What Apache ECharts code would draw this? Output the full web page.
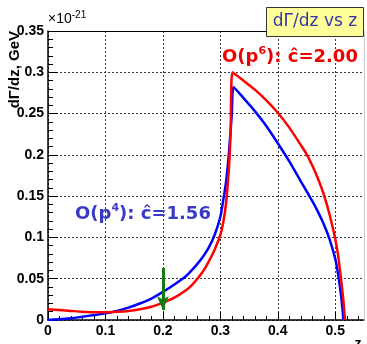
<!doctype html>
<html>
<head>
<meta charset="utf-8">
<title></title>
<script src="https://cdn.jsdelivr.net/npm/echarts@6/dist/echarts.min.js"></script>
<style>
html, body { margin: 0; padding: 0; background: #fff; }
#main { width: 367px; height: 344px; }
</style>
</head>
<body>
<div id="main"></div>
<script type="text/javascript">
// values, in units of 1e-21 GeV
var blueZ = [0, 0.02, 0.04, 0.06, 0.08, 0.10, 0.12, 0.14, 0.16, 0.18, 0.20, 0.22, 0.24, 0.25, 0.26, 0.27, 0.28, 0.29, 0.30, 0.305, 0.31, 0.315, 0.32, 0.323,
	0.34, 0.36, 0.38, 0.40, 0.42, 0.44, 0.46, 0.47, 0.48, 0.49, 0.50, 0.505, 0.51, 0.513, 0.514];
var blueV = [0, 0.001, 0.002, 0.004, 0.006, 0.008, 0.011, 0.015, 0.020, 0.026, 0.034, 0.043, 0.053, 0.060, 0.068, 0.077, 0.088, 0.103, 0.125, 0.145, 0.168, 0.203, 0.250, 0.282,
	0.269, 0.253, 0.235, 0.214, 0.192, 0.168, 0.144, 0.131, 0.116, 0.098, 0.074, 0.055, 0.030, 0.010, 0];

var redZ = [0, 0.02, 0.04, 0.06, 0.08, 0.10, 0.12, 0.14, 0.16, 0.18, 0.20, 0.22, 0.24, 0.25, 0.26, 0.27, 0.28, 0.29, 0.30, 0.305, 0.31, 0.315, 0.318, 0.321,
	0.34, 0.36, 0.38, 0.40, 0.42, 0.44, 0.45, 0.46, 0.47, 0.48, 0.49, 0.50, 0.505, 0.51, 0.514, 0.516, 0.517];
var redV = [0.013, 0.012, 0.011, 0.010, 0.0095, 0.0095, 0.010, 0.011, 0.013, 0.016, 0.021, 0.027, 0.036, 0.042, 0.050, 0.059, 0.071, 0.085, 0.103, 0.118, 0.142, 0.185, 0.230, 0.300,
	0.290, 0.279, 0.266, 0.251, 0.233, 0.212, 0.201, 0.187, 0.171, 0.152, 0.128, 0.098, 0.078, 0.050, 0.025, 0.008, 0];

// green arrow at z = 0.2
var arrowZ = 0.2;
var arrowV = [0.063, 0.012];

var titleText = 'dΓ/dz vs z';
var yTitle = 'dΓ/dz, GeV';

function pairs(xs, ys) {
	var out = [];
	for (var i = 0; i < xs.length; i++) out.push([xs[i], ys[i]]);
	return out;
}

var myChart = echarts.init(document.getElementById('main'));

var lbl = { color: '#000', fontFamily: 'Liberation Sans', fontWeight: 'bold', fontSize: 14 };
var gridLine = { show: true, lineStyle: { color: '#222', type: [2, 2], width: 1, opacity: 0.9 } };

var option = {
	animation: false,
	backgroundColor: '#fff',
	grid: { left: 48, right: 3, top: 31, bottom: 24, containLabel: false },
	xAxis: {
		type: 'value', min: 0, max: 0.55, interval: 0.1,
		axisLine: { show: true, lineStyle: { color: '#000', width: 1.5 } },
		axisTick: { show: true, inside: true, length: 8, lineStyle: { color: '#000' } },
		minorTick: { show: true, splitNumber: 5, length: 4, lineStyle: { color: '#000' } },
		axisLabel: Object.assign({ margin: 4, showMaxLabel: false, formatter: function (v) { return v > 0.52 ? '' : String(+v.toFixed(2)); } }, lbl),
		splitLine: gridLine
	},
	yAxis: {
		type: 'value', min: 0, max: 0.35, interval: 0.05,
		axisLine: { show: true, lineStyle: { color: '#000', width: 1.5 } },
		axisTick: { show: true, inside: true, length: 10, lineStyle: { color: '#000' } },
		minorTick: { show: true, splitNumber: 5, length: 5, lineStyle: { color: '#000' } },
		axisLabel: Object.assign({ margin: 4 }, lbl),
		splitLine: gridLine
	},
	series: [{
		name: 'O(p4)',
		type: 'line',
		showSymbol: false,
		smooth: 0.2,
		data: pairs(blueZ, blueV),
		lineStyle: { color: '#0000ff', width: 2.5 },
		z: 3
	}, {
		name: 'O(p6)',
		type: 'line',
		showSymbol: false,
		smooth: 0.2,
		data: pairs(redZ, redV),
		lineStyle: { color: '#ff0000', width: 2.5 },
		z: 4,
		markLine: {
			silent: true,
			symbol: ['none', 'arrow'],
			symbolSize: [9, 14],
			label: { show: false },
			lineStyle: { color: '#137a13', width: 3, type: 'solid' },
			data: [[{ coord: [arrowZ, arrowV[0]] }, { coord: [arrowZ, arrowV[1]] }]]
		}
	}],
	graphic: [{
		// frame top and right
		type: 'line', shape: { x1: 48, y1: 31.5, x2: 364, y2: 31.5 },
		style: { stroke: '#000', lineWidth: 1 }, z: 50
	}, {
		type: 'line', shape: { x1: 364.5, y1: 31, x2: 364.5, y2: 320 },
		style: { stroke: '#c8c8d8', lineWidth: 1 }, z: 50
	}, {
		type: 'text', x: 48, y: 28,
		style: {
			text: '{a|×10}{s|-21}', verticalAlign: 'bottom', align: 'left',
			rich: {
				a: { fontFamily: 'Liberation Sans', fontSize: 14, fill: '#000', lineHeight: 16 },
				s: { fontFamily: 'Liberation Sans', fontSize: 10, fill: '#000', lineHeight: 18, verticalAlign: 'top' }
			}
		}
	}, {
		type: 'text', x: 15, y: 31, rotation: Math.PI / 2,
		style: { text: yTitle, fill: '#000', font: 'bold 15px "Liberation Sans"', align: 'right', verticalAlign: 'middle' }
	}, {
		type: 'text', x: 358, y: 337,
		style: { text: 'z', fill: '#000', font: 'bold 14px "Liberation Sans"', align: 'center', verticalAlign: 'top' }
	}, {
		type: 'rect', shape: { x: 266.5, y: 7.5, width: 97, height: 29 },
		style: { fill: '#ffff99', stroke: '#333', lineWidth: 1 }, z: 100
	}, {
		type: 'text', x: 315, y: 22, z: 101,
		style: { text: titleText, fill: '#3535a8', font: '17px "DejaVu Sans"', align: 'center', verticalAlign: 'middle' }
	}, {
		type: 'text', x: 222, y: 46, z: 101,
		style: {
			text: '{a|O(p}{s|6}{a|): ĉ=2.00}', align: 'left', verticalAlign: 'top',
			rich: {
				a: { fontFamily: 'DejaVu Sans', fontWeight: 'bold', fontSize: 18, fill: '#ee0000', lineHeight: 22 },
				s: { fontFamily: 'DejaVu Sans', fontWeight: 'bold', fontSize: 11, fill: '#ee0000', lineHeight: 14, verticalAlign: 'top' }
			}
		}
	}, {
		type: 'text', x: 75, y: 203, z: 101,
		style: {
			text: '{a|O(p}{s|4}{a|): ĉ=1.56}', align: 'left', verticalAlign: 'top',
			rich: {
				a: { fontFamily: 'DejaVu Sans', fontWeight: 'bold', fontSize: 18, fill: '#3a3ac8', lineHeight: 22 },
				s: { fontFamily: 'DejaVu Sans', fontWeight: 'bold', fontSize: 11, fill: '#3a3ac8', lineHeight: 14, verticalAlign: 'top' }
			}
		}
	}]
};

myChart.setOption(option);
</script>
</body>
</html>
